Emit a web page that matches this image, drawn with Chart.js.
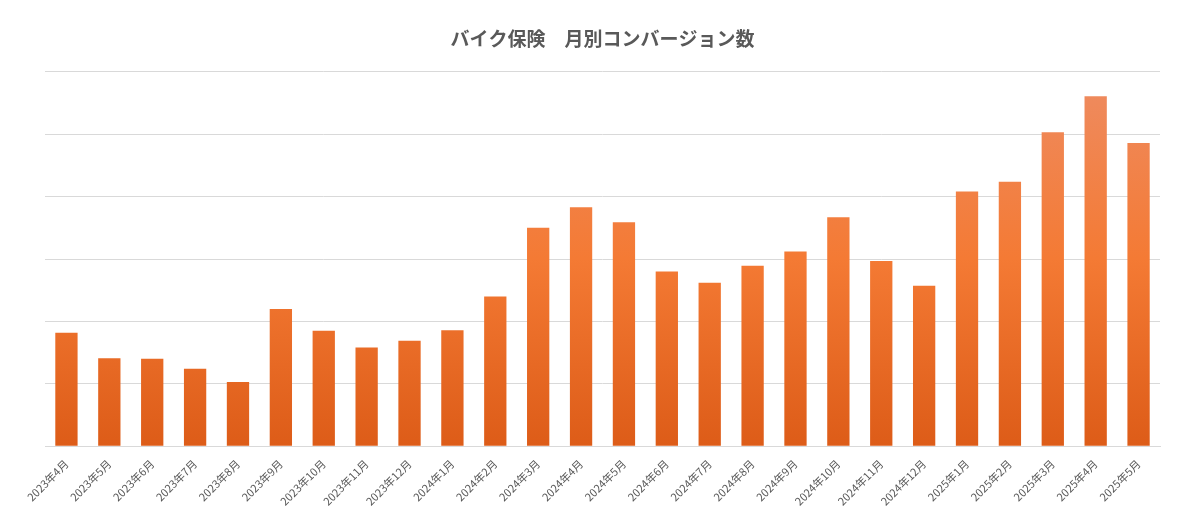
<!DOCTYPE html>
<html><head><meta charset="utf-8">
<script src="https://cdn.jsdelivr.net/npm/chart.js@4"></script>
<style>html,body{margin:0;padding:0;background:#fff}#w{width:1192px;height:531px}</style>
</head><body><div id="w"><canvas id="c"></canvas></div>
<script>
const categories=["2023年4月","2023年5月","2023年6月","2023年7月","2023年8月","2023年9月","2023年10月","2023年11月","2023年12月","2024年1月","2024年2月","2024年3月","2024年4月","2024年5月","2024年6月","2024年7月","2024年8月","2024年9月","2024年10月","2024年11月","2024年12月","2025年1月","2025年2月","2025年3月","2025年4月","2025年5月"];
const conversions=[182,141,140,124,103,220,185,158,169,186,240,350,383,359,280,262,289,312,367,297,257,408,424,503,561,486];
function grad(ctx){const a=ctx.chart.chartArea;if(!a)return '#ee7030';const g=ctx.chart.ctx.createLinearGradient(0,a.bottom,0,a.top);g.addColorStop(0,'#dd5c18');g.addColorStop(0.5,'#f47a34');g.addColorStop(1,'#ee8c62');return g;}
new Chart(document.getElementById('c'),{type:'bar',
data:{labels:categories,datasets:[{data:conversions,backgroundColor:grad,barPercentage:0.52,categoryPercentage:1}]},
options:{responsive:true,maintainAspectRatio:false,animation:false,
layout:{padding:{left:45,right:32,top:17,bottom:20}},
plugins:{legend:{display:false},tooltip:{enabled:false},title:{display:true,text:'バイク保険　月別コンバージョン数',color:'#595959',font:{size:19,weight:'bold',family:'Noto Sans CJK JP'},padding:{top:10,bottom:22}}},
scales:{x:{grid:{display:false},border:{color:'#d9d9d9'},ticks:{color:'#595959',font:{size:11,family:'Noto Sans CJK JP'},maxRotation:45,minRotation:45,autoSkip:false}},
y:{min:0,max:600,ticks:{display:false,stepSize:100},grid:{color:'#d9d9d9',drawTicks:false},border:{display:false}}}}});
</script></body></html>
